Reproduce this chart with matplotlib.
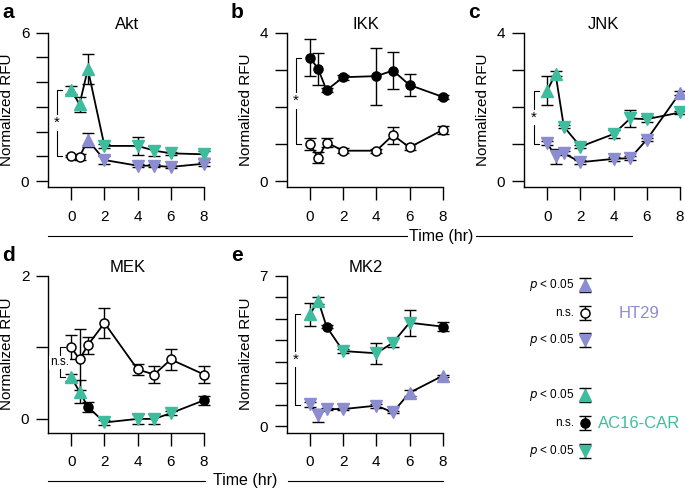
import numpy as np
import matplotlib
matplotlib.use("Agg")
import matplotlib.pyplot as plt

plt.rcParams['font.family'] = ['Liberation Sans', 'DejaVu Sans']
plt.rcParams['font.size'] = 11
plt.rcParams['axes.linewidth'] = 1.0

GREEN = "#3dbd9d"
PURPLE = "#8c8cd1"

# ── Data ──────────────────────────────────────────────────────────────────────
times = [0, 0.5, 1, 2, 4, 5, 6, 8]

# sig codes per time point: u = up (p<0.05), d = down (p<0.05), n = n.s.
akt_ht29 = [1.02, 0.98, 1.66, 0.85, 0.62, 0.62, 0.57, 0.70]
akt_ht29_err = [0.05, 0.12, 0.30, 0.15, 0.05, 0.05, 0.05, 0.08]
akt_ht29_sig = "nnuddddd"
akt_ac16 = [3.68, 3.10, 4.53, 1.42, 1.42, 1.23, 1.12, 1.08]
akt_ac16_err = [0.15, 0.30, 0.60, 0.08, 0.38, 0.20, 0.06, 0.15]
akt_ac16_sig = "uuuddddd"

ikk_ht29 = [1.00, 0.63, 1.04, 0.82, 0.82, 1.24, 0.91, 1.38]
ikk_ht29_err = [0.17, 0.15, 0.12, 0.07, 0.05, 0.23, 0.08, 0.10]
ikk_ht29_sig = "nnnnnnnn"
ikk_ac16 = [3.33, 3.02, 2.45, 2.80, 2.83, 2.98, 2.59, 2.27]
ikk_ac16_err = [0.50, 0.43, 0.05, 0.07, 0.77, 0.50, 0.30, 0.05]
ikk_ac16_sig = "nnnnnnnn"

jnk_ht29 = [1.02, 0.67, 0.75, 0.51, 0.60, 0.62, 1.12, 2.38]
jnk_ht29_err = [0.05, 0.20, 0.05, 0.05, 0.05, 0.05, 0.05, 0.05]
jnk_ht29_sig = "dddddddu"
jnk_ac16 = [2.44, 2.89, 1.47, 0.93, 1.27, 1.69, 1.67, 1.85]
jnk_ac16_err = [0.38, 0.07, 0.05, 0.05, 0.10, 0.22, 0.08, 0.05]
jnk_ac16_sig = "uudddddd"

mek_ht29 = [1.00, 0.83, 1.03, 1.34, 0.69, 0.62, 0.83, 0.62]
mek_ht29_err = [0.17, 0.42, 0.12, 0.21, 0.07, 0.12, 0.15, 0.12]
mek_ht29_sig = "nnnnnnnn"
mek_ac16 = [0.58, 0.38, 0.17, -0.05, 0.00, 0.00, 0.08, 0.26]
mek_ac16_err = [0.05, 0.16, 0.07, 0.04, 0.07, 0.07, 0.03, 0.06]
mek_ac16_sig = "uunddddn"

mk2_ht29 = [1.01, 0.51, 0.79, 0.79, 0.95, 0.64, 1.55, 2.34]
mk2_ht29_err = [0.10, 0.30, 0.05, 0.05, 0.10, 0.05, 0.15, 0.05]
mk2_ht29_sig = "dddddduu"
mk2_ac16 = [5.20, 5.84, 4.63, 3.49, 3.39, 3.88, 4.81, 4.63]
mk2_ac16_err = [0.55, 0.15, 0.08, 0.10, 0.50, 0.20, 0.60, 0.20]
mk2_ac16_sig = "uunddddn"

titles = ["Akt", "IKK", "JNK", "MEK", "MK2"]
letters = ["a", "b", "c", "d", "e"]
y_max = [6, 4, 4, 2, 7]
y_bot = [-0.23, -0.15, -0.15, -0.19, -0.30]
brackets = [("*", 3.68, 1.02), ("*", 3.33, 1.00), ("*", 2.44, 1.00),
            ("n.s.", 1.00, 0.58), ("*", 5.20, 1.00)]

# ── Layout (figure pixels, 685 x 491) ─────────────────────────────────────────
W, H = 685, 491
px_per_hr = 16.6
xmin = -1.4
xmax = 8.15
ax_w = (xmax - xmin) * px_per_hr
axes_px = [(48, 32.7, 186.7), (286.7, 32.7, 186.7), (524, 32.7, 186.7),
           (48, 275.7, 432.5), (286.7, 275.7, 432.5)]
bracket_x = [-0.86, -0.85, -0.8, -0.7, -0.87]


def draw_series(ax, y, err, sig, color, ns_face):
    ax.errorbar(times, y, yerr=err, color="black", lw=1.3, elinewidth=1,
                capsize=4, capthick=1, zorder=2, clip_on=False)
    for t, v, s in zip(times, y, sig):
        if s == "u":
            ax.plot(t, v, marker="^", ms=8.5, color=color, mec=color,
                    zorder=3, clip_on=False)
        elif s == "d":
            ax.plot(t, v, marker="v", ms=8.5, color=color, mec=color,
                    zorder=3, clip_on=False)
        else:
            ax.plot(t, v, marker="o", ms=6.5, mfc=ns_face, mec="black",
                    mew=1.1, zorder=3, clip_on=False)


fig = plt.figure(figsize=(W / 100, H / 100), dpi=100)

series = [
    (akt_ht29, akt_ht29_err, akt_ht29_sig, akt_ac16, akt_ac16_err, akt_ac16_sig),
    (ikk_ht29, ikk_ht29_err, ikk_ht29_sig, ikk_ac16, ikk_ac16_err, ikk_ac16_sig),
    (jnk_ht29, jnk_ht29_err, jnk_ht29_sig, jnk_ac16, jnk_ac16_err, jnk_ac16_sig),
    (mek_ht29, mek_ht29_err, mek_ht29_sig, mek_ac16, mek_ac16_err, mek_ac16_sig),
    (mk2_ht29, mk2_ht29_err, mk2_ht29_sig, mk2_ac16, mk2_ac16_err, mk2_ac16_sig),
]

for i, (left, top, bottom) in enumerate(axes_px):
    ax = fig.add_axes([left / W, 1 - bottom / H, ax_w / W, (bottom - top) / H])
    ht, hte, hts, ac, ace, acs = series[i]
    draw_series(ax, ht, hte, hts, PURPLE, "white")
    draw_series(ax, ac, ace, acs, GREEN, "black")

    ymax = y_max[i]
    ax.set_xlim(xmin, xmax)
    ax.set_ylim(y_bot[i], ymax)
    ax.spines[["top", "right"]].set_visible(False)
    ax.spines["bottom"].set_bounds(xmin, 8)
    ax.set_xticks([0, 2, 4, 6, 8])
    ax.set_yticks(range(0, ymax + 1))
    ax.set_yticklabels(["0"] + [""] * (ymax - 1) + [str(ymax)])
    ax.tick_params(axis="x", length=9.5, width=1, pad=7, labelsize=11)
    ax.tick_params(axis="y", length=8.5, width=1, pad=5, labelsize=11)
    ax.set_ylabel("Normalized RFU", fontsize=11)
    ax.yaxis.set_label_coords(-0.215, 0.5)
    ax.set_title(titles[i], fontsize=12, pad=3)

    # significance bracket at t=0
    lab, hi, lo = brackets[i]
    bx = bracket_x[i]
    ax.plot([bx + 0.3, bx, bx, bx + 0.3], [hi, hi, lo, lo], color="black",
            lw=0.8, clip_on=False)
    ax.text(bx, (hi + lo) / 2, lab, ha="center", va="center",
            fontsize=11 if lab == "*" else 8.5,
            bbox=dict(facecolor="white", edgecolor="none", pad=0.5))

    fig.text((left - 46) / W if i in (0, 3) else (left - 56) / W,
             1 - (top - 20) / H, letters[i], fontsize=15, fontweight="bold",
             ha="left", va="center")

# ── Overlay: "Time (hr)" lines and legend ─────────────────────────────────────
ov = fig.add_axes([0, 0, 1, 1], zorder=5)
ov.set_xlim(0, W)
ov.set_ylim(H, 0)
ov.axis("off")
ov.patch.set_alpha(0)

for (l1, r1, tx, l2, r2, ty) in [(48, 407, 441, 476, 632, 236),
                                   (48, 205, 245.5, 288, 443, 481)]:
    ov.plot([l1, r1], [ty, ty], color="black", lw=0.8)
    ov.plot([l2, r2], [ty, ty], color="black", lw=0.8)
    ov.text(tx, ty, "Time (hr)", ha="center", va="center", fontsize=11.5)

leg_x = 585
leg_rows = [(285, "^", PURPLE, PURPLE, "p"), (313, "o", "white", "black", "ns"),
            (340, "v", PURPLE, PURPLE, "p"), (395, "^", GREEN, GREEN, "p"),
            (423, "o", "black", "black", "ns"), (451, "v", GREEN, GREEN, "p")]
for y, m, fc, ec, kind in leg_rows:
    ov.errorbar(leg_x, y, yerr=7, color="black", elinewidth=1, capsize=4,
                capthick=1, zorder=2)
    ov.plot(leg_x, y, marker=m, ms=8.5 if m != "o" else 6.5, mfc=fc, mec=ec,
            mew=1.1 if m == "o" else 1, zorder=3)
    if kind == "p":
        ov.text(leg_x - 11, y, r"$\it{p}$ < 0.05", ha="right", va="center",
                fontsize=8.5)
    else:
        ov.text(leg_x - 11, y, "n.s.", ha="right", va="center", fontsize=8.5)

ov.text(619, 313, "HT29", color=PURPLE, ha="left", va="center", fontsize=12)
ov.text(598, 423, "AC16-CAR", color=GREEN, ha="left", va="center", fontsize=12)

fig.savefig("out.png", dpi=100)
